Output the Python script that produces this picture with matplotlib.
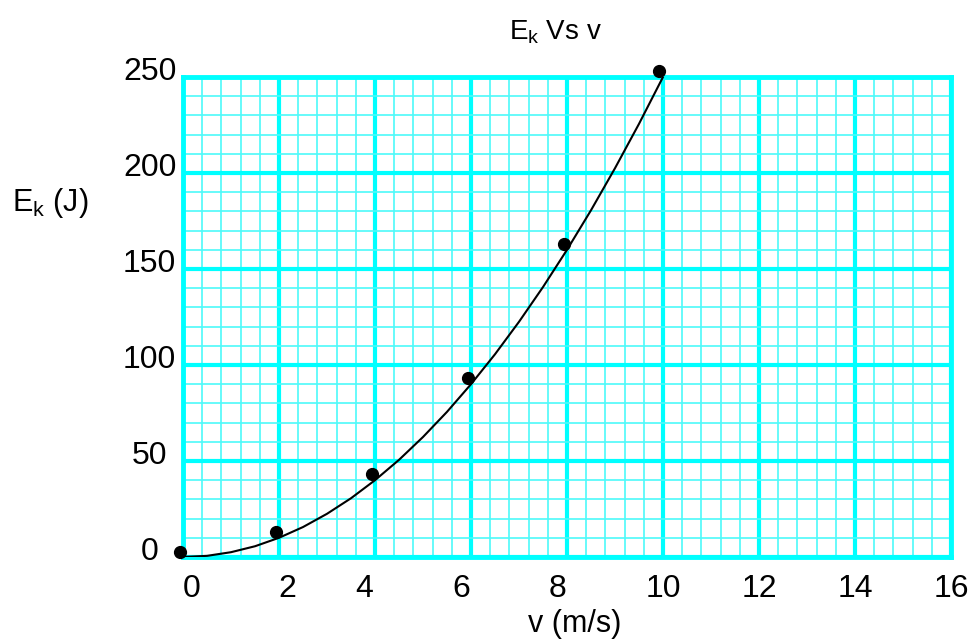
import matplotlib
matplotlib.use("Agg")
import matplotlib.pyplot as plt
from matplotlib.transforms import ScaledTranslation
import numpy as np

plt.rcParams['font.family'] = ['Liberation Sans', 'DejaVu Sans']

# measured points
v_pts = [-0.06, 1.94, 3.94, 5.94, 7.94, 9.92]
ek_pts = [2.6, 13, 43, 93, 163, 253]

# fitted curve
v_fit = [0, 0.5, 1, 1.5, 2, 2.5, 3, 3.5, 4, 4.5, 5, 5.5, 6, 6.5, 7, 7.5, 8, 8.5, 9, 9.5, 10]
ek_fit = [0, 0.6, 2.5, 5.6, 10, 15.6, 22.5, 30.6, 40, 50.6, 62.5, 75.6, 90, 105.6,
          122.5, 140.6, 160, 180.6, 202.5, 225.6, 250]

x_ticks = [0, 2, 4, 6, 8, 10, 12, 14, 16]
y_ticks = [0, 50, 100, 150, 200, 250]
# small horizontal shifts of the x labels in the original (pixels)
x_label_dx = [9, 8, -11, -10, -10, 0, 0, 0, 0]

fig = plt.figure(figsize=(9.69, 6.39), dpi=100)
ax = fig.add_axes([183/969, 82/639, 768/969, 480/639])

ax.set_xlim(0, 16)
ax.set_ylim(0, 250)
ax.set_xticks(x_ticks)
ax.set_yticks(y_ticks)
ax.set_xticks(np.arange(0, 16.01, 0.4), minor=True)
ax.set_yticks(np.arange(0, 250.1, 10), minor=True)

ax.grid(which='minor', color='#4dfafa', lw=1.2, zorder=0)
ax.grid(which='major', color='#00ffff', lw=3, zorder=0)
ax.set_axisbelow(True)
for s in ax.spines.values():
    s.set_color('#00ffff')
    s.set_linewidth(3.5)

ax.tick_params(which='both', length=0)
ax.tick_params(axis='x', labelsize=23, pad=12)
ax.tick_params(axis='y', labelsize=23, pad=24)

for lab in ax.get_yticklabels():
    lab.set_horizontalalignment('center')
    lab.set_transform(lab.get_transform() + ScaledTranslation(0, 8/100, fig.dpi_scale_trans))
for lab, dx in zip(ax.get_xticklabels(), x_label_dx):
    lab.set_transform(lab.get_transform() + ScaledTranslation(dx/100, 0, fig.dpi_scale_trans))

ax.plot(v_fit, ek_fit, color='black', lw=1.5, zorder=3)
ax.plot(v_pts, ek_pts, 'o', color='black', ms=8.5, clip_on=False, zorder=4)

fig.text(555/969, 1 - 32/639, r'$\mathregular{E_k}$ Vs v', fontsize=20, ha='center', va='center')
fig.text(575/969, 1 - 624/639, 'v (m/s)', fontsize=22, ha='center', va='center')
fig.text(50/969, 1 - 203/639, r'$\mathregular{E_k}$ (J)', fontsize=22, ha='center', va='center')

fig.savefig('out.png', dpi=100)
